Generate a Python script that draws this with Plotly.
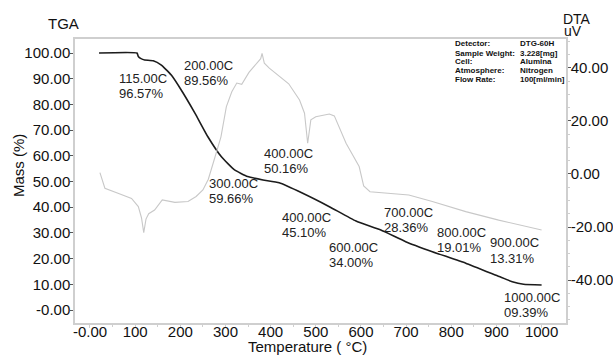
import plotly.graph_objects as go

# ---------------- data ----------------
tga_temp = [20, 104, 107, 113, 121, 140, 158, 180, 202, 232, 261, 291, 320, 349, 383, 419, 471, 530, 589, 644, 699, 758, 832, 906, 935, 960, 1000]
tga_mass = [100.0, 100.0, 98.6, 97.8, 97.3, 97.0, 95.3, 91.4, 85.6, 76.7, 67.4, 59.6, 54.5, 51.9, 50.6, 49.5, 45.4, 40.2, 34.6, 31.1, 26.6, 22.7, 18.2, 13.0, 11.0, 10.0, 9.7]

dta_temp = [22, 33, 62, 92, 107, 114, 119, 124, 130, 143, 160, 188, 217, 235, 250, 262, 277, 290, 302, 314, 325, 336, 352, 370, 378, 381, 386, 397, 420, 440, 464, 475, 482, 489, 500, 530, 541, 567, 596, 606, 620, 662, 706, 758, 832, 905, 1000]
dta_val = [0.5, -5.4, -7.3, -9.2, -12.3, -16.5, -22.1, -17.0, -15.0, -13.6, -9.8, -10.7, -10.4, -8.5, -6.0, -2.0, 6.5, 14.0, 25.4, 31.0, 34.3, 33.8, 38.3, 42.0, 43.5, 45.5, 41.8, 39.9, 36.8, 34.0, 27.9, 22.9, 11.6, 20.4, 21.6, 22.6, 21.9, 11.6, 2.8, -4.5, -6.7, -7.3, -7.9, -10.4, -14.2, -17.4, -21.1]

x_tickvals = [0, 100, 200, 300, 400, 500, 600, 700, 800, 900, 1000]
x_ticktext = ["-0.00", "100", "200", "300", "400", "500", "600", "700", "800", "900", "1000"]
y_tickvals = [0, 10, 20, 30, 40, 50, 60, 70, 80, 90, 100]
y_ticktext = ["-0.00", "10.00", "20.00", "30.00", "40.00", "50.00", "60.00", "70.00", "80.00", "90.00", "100.00"]
y2_tickvals = [-40, -20, 0, 20, 40]
y2_ticktext = ["-40.00", "-20.00", "0.00", "20.00", "40.00"]

point_temps = ["115.00C", "200.00C", "300.00C", "400.00C", "400.00C", "600.00C", "700.00C", "800.00C", "900.00C", "1000.00C"]
point_masses = ["96.57%", "89.56%", "59.66%", "50.16%", "45.10%", "34.00%", "28.36%", "19.01%", "13.31%", "09.39%"]

info_keys = ["Detector:", "Sample Weight:", "Cell:", "Atmosphere:", "Flow Rate:"]
info_vals = ["DTG-60H", "3.228[mg]", "Alumina", "Nitrogen", "100[ml/min]"]

# ---------------- styling / layout ----------------
FONT = "Liberation Sans, Arial, sans-serif"
W, H = 613, 356
L, R, T, B = 75, 566, 39, 323
AX = "#cfcfcf"

def pxx(x):
    return (x - L) / (R - L)

def pxy(y):
    return (B - y) / (B - T)

label_pos = [(117, 73), (182, 60), (207, 178), (262, 148), (280, 212),
             (327, 242), (382, 207), (435, 227), (488, 238), (502, 292)]
info_rows = [44, 53, 61.5, 70.5, 79]

fig = go.Figure()
fig.add_trace(go.Scatter(x=dta_temp, y=dta_val, mode="lines", yaxis="y2",
                         line=dict(color="#c8c8c8", width=1.1), showlegend=False))
fig.add_trace(go.Scatter(x=tga_temp, y=tga_mass, mode="lines",
                         line=dict(color="#1c1c1c", width=1.6, shape="spline", smoothing=0.4),
                         showlegend=False))

ann = []
for (lx, ty), t, m in zip(label_pos, point_temps, point_masses):
    ann.append(dict(x=pxx(lx), y=pxy(ty + 5), xref="paper", yref="paper", text=t,
                    xanchor="left", yanchor="middle", showarrow=False,
                    font=dict(size=13, color="#222", family=FONT)))
    ann.append(dict(x=pxx(lx), y=pxy(ty + 20), xref="paper", yref="paper", text=m,
                    xanchor="left", yanchor="middle", showarrow=False,
                    font=dict(size=13, color="#222", family=FONT)))

for yy, k, v in zip(info_rows, info_keys, info_vals):
    ann.append(dict(x=pxx(453), y=pxy(yy), xref="paper", yref="paper", text="<b>%s</b>" % k,
                    xanchor="left", yanchor="middle", showarrow=False,
                    font=dict(size=8, color="#111", family=FONT)))
    ann.append(dict(x=pxx(518), y=pxy(yy), xref="paper", yref="paper", text="<b>%s</b>" % v,
                    xanchor="left", yanchor="middle", showarrow=False,
                    font=dict(size=8, color="#111", family=FONT)))

ann += [
    dict(x=pxx(63), y=pxy(23), xref="paper", yref="paper", text="TGA", showarrow=False,
         xanchor="center", yanchor="middle", font=dict(size=15, color="#111", family=FONT)),
    dict(x=pxx(577), y=pxy(19), xref="paper", yref="paper", text="DTA", showarrow=False,
         xanchor="center", yanchor="middle", font=dict(size=14, color="#111", family=FONT)),
    dict(x=pxx(573), y=pxy(31), xref="paper", yref="paper", text="uV", showarrow=False,
         xanchor="center", yanchor="middle", font=dict(size=14, color="#111", family=FONT)),
    dict(x=pxx(307), y=pxy(347), xref="paper", yref="paper", text="Temperature ( °C)",
         showarrow=False, xanchor="center", yanchor="middle",
         font=dict(size=15, color="#111", family=FONT)),
    dict(x=pxx(18), y=pxy(166), xref="paper", yref="paper", text="Mass (%)", textangle=-90,
         showarrow=False, xanchor="center", yanchor="middle",
         font=dict(size=15, color="#111", family=FONT)),
]

fig.update_layout(
    width=W, height=H,
    margin=dict(l=L, r=W - R, t=T, b=H - B, pad=0, autoexpand=False),
    paper_bgcolor="white", plot_bgcolor="white",
    font=dict(family=FONT, size=15, color="#111"),
    xaxis=dict(range=[-33.2, 1054], tickmode="array", tickvals=x_tickvals, ticktext=x_ticktext,
               automargin=False,
               showgrid=False, zeroline=False, showline=True, linecolor=AX, linewidth=1.5,
               mirror=True, ticks="outside", ticklen=3, tickcolor=AX, ticklabelstandoff=-9,
               minor=dict(tickvals=[50, 150, 250, 350, 450, 550, 650, 750, 850, 950],
                          ticks="outside", ticklen=2, tickcolor=AX),
               tickfont=dict(size=15)),
    yaxis=dict(range=[-5.06, 105.45], tickmode="array", tickvals=y_tickvals, ticktext=y_ticktext,
               automargin=False,
               showgrid=False, zeroline=False, showline=True, linecolor=AX, linewidth=1.5,
               ticks="outside", ticklen=3, tickcolor="#555", ticklabelstandoff=-3,
               tickfont=dict(size=15)),
    yaxis2=dict(range=[-56.2, 50.9], overlaying="y", side="right", tickmode="array",
                tickvals=y2_tickvals, ticktext=y2_ticktext, automargin=False,
                showgrid=False, zeroline=False, showline=True, linecolor=AX, linewidth=1.5,
                ticks="outside", ticklen=3, tickcolor="#555", ticklabelstandoff=-3,
                minor=dict(dtick=5, ticks="outside", ticklen=2, tickcolor=AX),
                tickfont=dict(size=15)),
    annotations=ann,
)

fig.write_html("out.html", config={"displayModeBar": False},
               post_script="document.body.style.margin='0';")
